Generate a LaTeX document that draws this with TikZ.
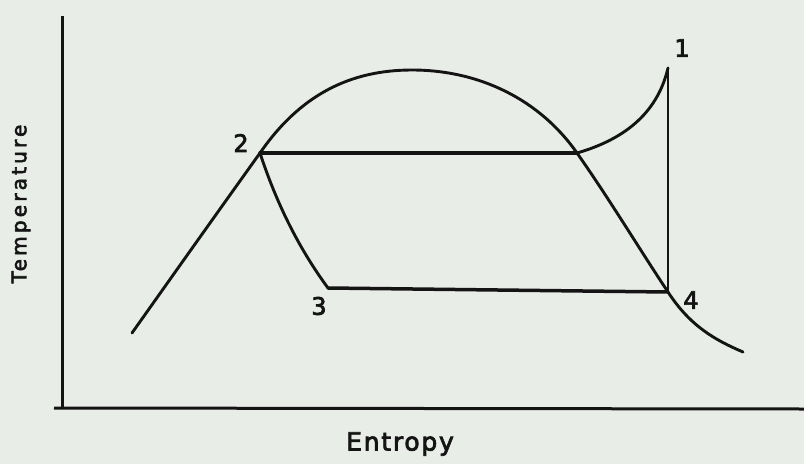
\documentclass[tikz,border=0pt]{standalone}
\usepackage{fontspec}
\setmainfont{DejaVu Sans}
\definecolor{paper}{RGB}{233,237,232}
\definecolor{ink}{RGB}{20,20,20}
\begin{document}
\begin{tikzpicture}[x=1pt,y=-1pt,
  curve/.style={draw=ink,line width=2.9pt,line join=round,line cap=round},
  thick line/.style={draw=ink,line width=3.5pt,line cap=round},
  axis/.style={draw=ink,line width=3pt},
  ptlabel/.style={text=ink,font=\fontsize{24}{24}\selectfont\addfontfeatures{FakeBold=3},inner sep=0pt},
  axlabel/.style={text=ink,inner sep=0pt}]
\fill[paper] (0,0) rectangle (804,464);
\useasboundingbox (0,0) rectangle (804,464);
% axes
\coordinate (ytop) at (62,16);
\coordinate (origin) at (62,408);
\coordinate (xend) at (804,409);
\coordinate (xstart) at (54,408);
\draw[axis] (ytop) -- (origin);
\draw[axis] (xstart) -- (xend);
% state points
\coordinate (p1) at (668,68);
\coordinate (p2) at (260,153);
\coordinate (p3) at (328,288);
\coordinate (p4) at (668,292);
\coordinate (sv) at (577,153);
\coordinate (top) at (412,70);
\coordinate (lf) at (132,333);
\coordinate (rf) at (743,352);
% saturation dome
\draw[curve] (lf) .. controls (178,268) and (222,206) .. (p2)
  .. controls (300,95) and (350,70) .. (top)
  .. controls (480,70) and (540,100) .. (sv)
  .. controls (610,200) and (640,250) .. (p4)
  .. controls (690,326) and (715,340) .. (rf);
% superheated expansion path
\draw[curve] (sv) .. controls (622,140) and (657,115) .. (p1);
\draw[curve] (p1) -- (p4);
% evaporation line
\draw[thick line] (p2) -- (sv);
% 2 -> 3
\draw[curve] (p2) .. controls (277,205) and (300,250) .. (p3);
% 3 -> 4
\draw[thick line] (p3) -- (p4);
% labels
\node[ptlabel] (l1) at (682,48) {1};
\node[ptlabel] (l2) at (241,143) {2};
\node[ptlabel] (l3) at (319,306) {3};
\node[ptlabel] (l4) at (691,300) {4};
\node[axlabel,font=\fontsize{25}{25}\selectfont\addfontfeatures{LetterSpace=7,FakeBold=3}] (xl) at (400,444) {Entropy};
\node[axlabel,rotate=90,font=\fontsize{20}{20}\selectfont\addfontfeatures{LetterSpace=16,FakeBold=3}] (yl) at (21,204) {Temperature};
\end{tikzpicture}
\end{document}
